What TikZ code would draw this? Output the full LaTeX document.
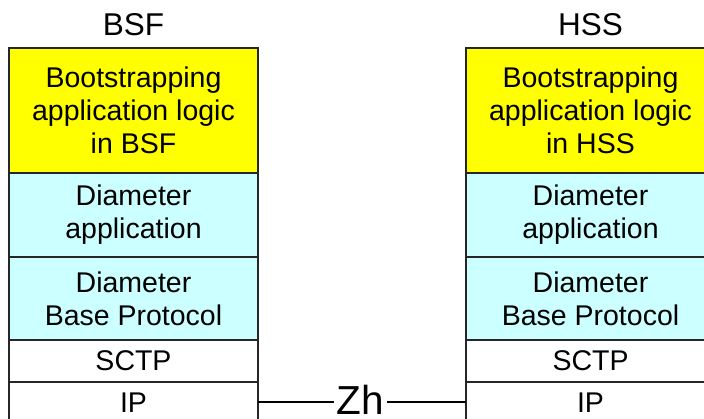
\documentclass[tikz,border=0pt]{standalone}
\usepackage{fontspec}
\setmainfont{Liberation Sans}
\definecolor{appyellow}{HTML}{FFFF00}
\definecolor{diamcyan}{HTML}{CCFFFF}
\begin{document}
\begin{tikzpicture}[x=1pt,y=-1pt,
  layer/.style={draw=black!85, line width=1.1pt, minimum width=249pt, inner sep=0pt,
    align=center, font=\fontsize{28.5}{33}\selectfont, outer sep=0pt},
  title/.style={font=\fontsize{31.5}{33}\selectfont, anchor=base, inner sep=0pt},
  link/.style={draw=black, line width=1.3pt}]
\useasboundingbox (0,0) rectangle (704,419);
\clip (0,0) rectangle (704,419);

% BSF protocol stack
\node[title] (bsft) at (133.5,36) {BSF};
\node[layer, fill=appyellow, minimum height=125pt] (bsfapp) at (133.5,110.5)
  {Bootstrapping\\application logic\\in BSF};
\node[layer, fill=diamcyan, minimum height=84pt] (bsfda) at (133.5,215)
  {Diameter\\application};
\node[layer, fill=diamcyan, minimum height=83pt] (bsfdb) at (133.5,298.5)
  {Diameter\\Base Protocol};
\node[layer, minimum height=42pt] (bsfsctp) at (133.5,361) {SCTP};
\node[layer, minimum height=42pt] (bsfip) at (133.5,403) {IP};

% HSS protocol stack
\node[title] (hsst) at (590.5,36) {HSS};
\node[layer, fill=appyellow, minimum height=125pt] (hssapp) at (590.5,110.5)
  {Bootstrapping\\application logic\\in HSS};
\node[layer, fill=diamcyan, minimum height=84pt] (hssda) at (590.5,215)
  {Diameter\\application};
\node[layer, fill=diamcyan, minimum height=83pt] (hssdb) at (590.5,298.5)
  {Diameter\\Base Protocol};
\node[layer, minimum height=42pt] (hsssctp) at (590.5,361) {SCTP};
\node[layer, minimum height=42pt] (hssip) at (590.5,403) {IP};

% Zh reference point between the IP layers
\node[font=\fontsize{40.5}{40}\selectfont, inner xsep=3pt, inner ysep=0pt, anchor=base] (zh) at (360.5,414) {Zh};
\coordinate (zhy) at (0,402);
\draw[link] (bsfip.east |- zhy) -- (zh.west |- zhy);
\draw[link] (zh.east |- zhy) -- (hssip.west |- zhy);
\end{tikzpicture}
\end{document}
